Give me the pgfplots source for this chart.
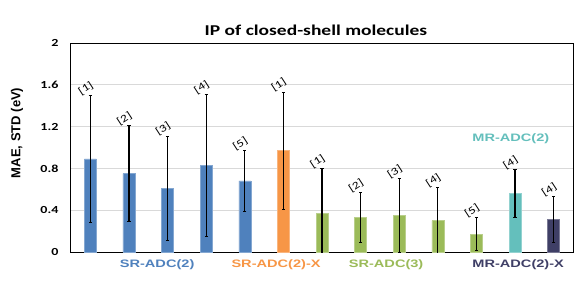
\documentclass[border=0pt]{standalone}
\usepackage{pgfplots}
\pgfplotsset{compat=1.18}
\usepackage{fontspec}
\setmainfont{Carlito}[FakeStretch=1.3]
\newfontfamily\arialw{Liberation Sans}[FakeStretch=1.35]
\newfontfamily\arial{Liberation Sans}
\definecolor{cblue}{HTML}{4F81BD}
\definecolor{corange}{HTML}{F79646}
\definecolor{cgreen}{HTML}{9BBB59}
\definecolor{cteal}{HTML}{64BFBC}
\definecolor{cdark}{HTML}{3F3F66}
\definecolor{cgrid}{HTML}{D9D9D9}
\begin{document}
\begin{tikzpicture}
\useasboundingbox (-71bp,-29bp) rectangle (510bp,252bp);
\begin{axis}[
  at={(0,0)}, anchor=south west,
  scale only axis, width=502bp, height=209bp,
  xmin=-0.5, xmax=12.5, ymin=0, ymax=2,
  xtick=\empty,
  ytick={0,0.4,0.8,1.2,1.6,2},
  yticklabels={0,0.4,0.8,1.2,1.6,2},
  major tick length=0pt,
  ymajorgrids, grid style={cgrid, line width=0.8bp},
  axis line style={black, line width=1bp},
  /pgf/number format/assume math mode=true,
  yticklabel style={font=\fontsize{10.8bp}{12bp}\selectfont\bfseries, xshift=-9bp},
  ylabel={MAE, STD (eV)},
  every axis y label/.style={at={(axis description cs:-0.1076,0.57)}, rotate=90, anchor=center, font=\arial\fontsize{13bp}{15bp}\selectfont\bfseries},
  title={IP of closed-shell molecules},
  every axis title/.style={at={(axis description cs:0.488,1)}, anchor=center, yshift=13bp, font=\fontsize{15bp}{17bp}\selectfont\bfseries},
  clip mode=individual,
  every axis plot/.append style={bar width=12bp, bar shift=0pt},
  error bars/error bar style={black, line width=1.2bp},
  error bars/error mark options={rotate=90, black, mark size=1.6bp, line width=1bp},
]
\addplot[ybar, fill=cblue, draw=cblue!70!white, line width=0.5bp,
  error bars/.cd, y dir=both, y explicit] coordinates {
  (0,0.89) +- (0,0.61)
  (1,0.75) +- (0,0.46)
  (2,0.61) +- (0,0.50)
  (3,0.83) +- (0,0.68)
  (4,0.68) +- (0,0.29)
};
\addplot[ybar, fill=corange, draw=corange!70!white, line width=0.5bp,
  error bars/.cd, y dir=both, y explicit] coordinates {
  (5,0.97) +- (0,0.56)
};
\addplot[ybar, fill=cgreen, draw=cgreen!70!white, line width=0.5bp,
  error bars/.cd, y dir=both, y explicit] coordinates {
  (6,0.37) +- (0,0.43)
  (7,0.33) +- (0,0.24)
  (8,0.35) +- (0,0.35)
  (9,0.30) +- (0,0.32)
  (10,0.17) +- (0,0.16)
};
\addplot[ybar, fill=cteal, draw=cteal!70!white, line width=0.5bp,
  error bars/.cd, y dir=both, y explicit] coordinates {
  (11,0.56) +- (0,0.23)
};
\addplot[ybar, fill=cdark, draw=cdark!70!white, line width=0.5bp,
  error bars/.cd, y dir=both, y explicit] coordinates {
  (12,0.31) +- (0,0.22)
};
% reference labels above error bars
\addplot[draw=none, mark=none, nodes near coords, point meta=explicit symbolic,
  nodes near coords style={anchor=south, rotate=33, yshift=3bp, inner sep=0.5bp, font=\fontsize{10.5bp}{11bp}\selectfont, black}]
  coordinates {
  (0,1.50) [{[1]}]
  (1,1.21) [{[2]}]
  (2,1.11) [{[3]}]
  (3,1.51) [{[4]}]
  (4,0.97) [{[5]}]
  (5,1.53) [{[1]}]
  (6,0.80) [{[1]}]
  (7,0.57) [{[2]}]
  (8,0.70) [{[3]}]
  (9,0.62) [{[4]}]
  (10,0.33) [{[5]}]
  (11,0.79) [{[4]}]
  (12,0.53) [{[4]}]
};
\node[font=\arialw\fontsize{10.8bp}{13bp}\selectfont\bfseries, text=cblue] at (axis cs:1.73,-0.125) {SR-ADC(2)};
\node[font=\arialw\fontsize{10.8bp}{13bp}\selectfont\bfseries, text=corange] at (axis cs:4.81,-0.125) {SR-ADC(2)-X};
\node[font=\arialw\fontsize{10.8bp}{13bp}\selectfont\bfseries, text=cgreen] at (axis cs:7.66,-0.125) {SR-ADC(3)};
\node[font=\arialw\fontsize{10.8bp}{13bp}\selectfont\bfseries, text=cdark] at (axis cs:11.08,-0.125) {MR-ADC(2)-X};
\node[font=\arialw\fontsize{10.8bp}{13bp}\selectfont\bfseries, text=cteal] at (axis cs:10.89,1.08) {MR-ADC(2)};
\end{axis}
\end{tikzpicture}
\end{document}
